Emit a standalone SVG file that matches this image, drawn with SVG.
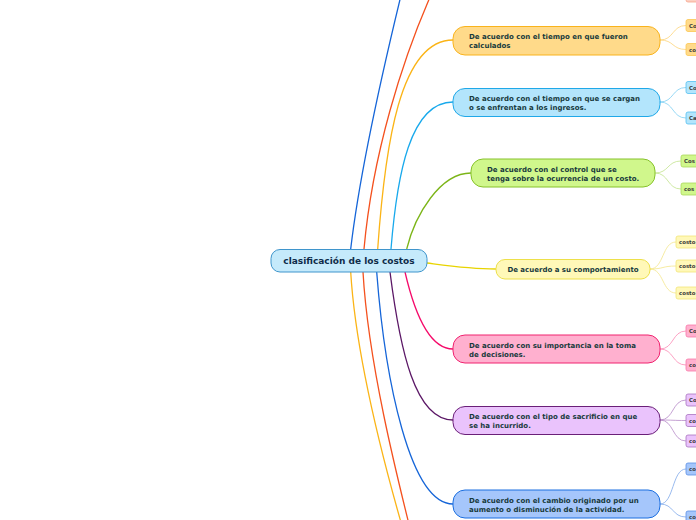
<svg xmlns="http://www.w3.org/2000/svg" width="696" height="520" viewBox="0 0 696 520">
<style>
.t{font-family:"DejaVu Sans","Liberation Sans",sans-serif;font-weight:bold;font-size:7px;fill:#183a3c}
.c{font-family:"DejaVu Sans","Liberation Sans",sans-serif;font-weight:bold;font-size:9px;fill:#0f2c4a}
.s{font-family:"DejaVu Sans","Liberation Sans",sans-serif;font-weight:bold;font-size:5.4px;fill:#3a3a3a}
.l{fill:none;stroke-width:1.3}
.k{fill:none;stroke-width:0.8}
</style>
<rect width="696" height="520" fill="#ffffff"/>
<g id="connectors">
<path class="l" stroke="#1565d8" d="M350.7 249 C360 170 385 60 406 -25"/>
<path class="l" stroke="#f4511e" d="M364 249 C372 160 400 60 440 -25"/>
<path class="l" stroke="#fbb416" d="M377.7 249 C385 145 400 40 453 40"/>
<path class="l" stroke="#18a9ec" d="M391 249 C397 175 410 102 453 102"/>
<path class="l" stroke="#7cb518" d="M406.7 249 C415 215 440 173 471 173"/>
<path class="l" stroke="#e8d400" d="M427 263 C450 266 470 269 496 269"/>
<path class="l" stroke="#f50a6a" d="M405 272 C415 315 430 349 453 349"/>
<path class="l" stroke="#5b1766" d="M390 272 C400 350 415 420 453 420"/>
<path class="l" stroke="#1565d8" d="M376.7 272 C385 380 410 504 453 504"/>
<path class="l" stroke="#f4511e" d="M363 272 C368 360 395 470 418 560"/>
<path class="l" stroke="#fbb416" d="M350.7 272 C356 360 385 470 412 560"/>
<path class="k" stroke="#fdd47a" d="M660 40 C674 40 672 25.5 686 25.5 M660 40 C674 40 672 49.5 686 49.5"/>
<path class="k" stroke="#7fcff2" d="M660 102 C674 102 672 87.5 686 87.5 M660 102 C674 102 672 118 686 118"/>
<path class="k" stroke="#c3e38e" d="M655 173 C669 173 667 161 681 161 M655 173 C669 173 667 189 681 189"/>
<path class="k" stroke="#f4e68a" d="M650 269 C664 269 662 242 676 242 M650 269 C664 269 662 266 676 266 M650 269 C664 269 662 293 676 293"/>
<path class="k" stroke="#fb8ab5" d="M660 349 C674 349 672 331 686 331 M660 349 C674 349 672 365 686 365"/>
<path class="k" stroke="#b68ac8" d="M660 420 C674 420 672 400 686 400 M660 420 C674 420 672 420.5 686 420.5 M660 420 C674 420 672 441 686 441"/>
<path class="k" stroke="#7fa8ea" d="M660 504 C674 504 672 469 686 469 M660 504 C674 504 672 517 686 517"/>
</g>
<g id="center">
<rect x="271" y="249.5" width="156" height="22.5" rx="9" fill="#c5eafb" stroke="#3f95cc" stroke-width="1"/>
<text class="c" x="349" y="264.2" text-anchor="middle">clasificación de los costos</text>
</g>
<g id="n1">
<rect x="453" y="26.5" width="207" height="28.5" rx="12" fill="#ffda8a" stroke="#f9b31c" stroke-width="1"/>
<text class="t" x="469" y="39">De acuerdo con el tiempo en que fueron</text>
<text class="t" x="469" y="48">calculados</text>
</g>
<g id="n2">
<rect x="453" y="88.5" width="207" height="28" rx="12" fill="#b3e5fc" stroke="#1fa8e8" stroke-width="1"/>
<text class="t" x="469" y="101">De acuerdo con el tiempo en que se cargan</text>
<text class="t" x="469" y="110">o se enfrentan a los ingresos.</text>
</g>
<g id="n3">
<rect x="471" y="159" width="184" height="28" rx="12" fill="#d0f78c" stroke="#86c22a" stroke-width="1"/>
<text class="t" x="487" y="171.5">De acuerdo con el control que se</text>
<text class="t" x="487" y="180.5">tenga sobre la ocurrencia de un costo.</text>
</g>
<g id="n4">
<rect x="496" y="259.5" width="154" height="19.5" rx="9" fill="#fff8b8" stroke="#ede04a" stroke-width="1"/>
<text class="t" x="573" y="271.5" text-anchor="middle">De acuerdo a su comportamiento</text>
</g>
<g id="n5">
<rect x="453" y="335" width="207" height="28" rx="12" fill="#ffb0cf" stroke="#f0226f" stroke-width="1"/>
<text class="t" x="469" y="347.5">De acuerdo con su importancia en la toma</text>
<text class="t" x="469" y="356.5">de decisiones.</text>
</g>
<g id="n6">
<rect x="453" y="406.5" width="207" height="28" rx="12" fill="#eac3fc" stroke="#6a1f78" stroke-width="1"/>
<text class="t" x="469" y="419">De acuerdo con el tipo de sacrificio en que</text>
<text class="t" x="469" y="428">se ha incurrido.</text>
</g>
<g id="n7">
<rect x="453" y="490" width="207" height="28" rx="12" fill="#a5c6fb" stroke="#1a6ee0" stroke-width="1"/>
<text class="t" x="469" y="502.5">De acuerdo con el cambio originado por un</text>
<text class="t" x="469" y="511.5">aumento o disminución de la actividad.</text>
</g>
<g id="c0"><rect x="686" y="-10" width="40" height="12" rx="2" fill="#fcd0c2" stroke="#f7a58c" stroke-width="0.8"/></g>
<g id="c1a"><rect x="686" y="19.5" width="40" height="12" rx="2" fill="#ffda8a" stroke="#fbc752" stroke-width="0.8"/><text class="s" x="689" y="27.5">Co</text></g>
<g id="c1b"><rect x="686" y="43.5" width="40" height="12" rx="2" fill="#ffda8a" stroke="#fbc752" stroke-width="0.8"/><text class="s" x="689" y="51.5">co</text></g>
<g id="c2a"><rect x="686" y="81.5" width="40" height="12" rx="2" fill="#b3e5fc" stroke="#56c0f0" stroke-width="0.8"/><text class="s" x="689" y="89.5">Co</text></g>
<g id="c2b"><rect x="686" y="112" width="40" height="12" rx="2" fill="#b3e5fc" stroke="#56c0f0" stroke-width="0.8"/><text class="s" x="689" y="120">Ca</text></g>
<g id="c3a"><rect x="681" y="155" width="40" height="12" rx="2" fill="#d0f78c" stroke="#a9d85a" stroke-width="0.8"/><text class="s" x="684" y="163">Cos</text></g>
<g id="c3b"><rect x="681" y="183" width="40" height="12" rx="2" fill="#d0f78c" stroke="#a9d85a" stroke-width="0.8"/><text class="s" x="684" y="191">cos</text></g>
<g id="c4a"><rect x="676" y="236" width="40" height="12" rx="2" fill="#fff8b8" stroke="#f2e47a" stroke-width="0.8"/><text class="s" x="679" y="244">costo</text></g>
<g id="c4b"><rect x="676" y="260" width="40" height="12" rx="2" fill="#fff8b8" stroke="#f2e47a" stroke-width="0.8"/><text class="s" x="679" y="268">costo</text></g>
<g id="c4c"><rect x="676" y="287" width="40" height="12" rx="2" fill="#fff8b8" stroke="#f2e47a" stroke-width="0.8"/><text class="s" x="679" y="295">costo</text></g>
<g id="c5a"><rect x="686" y="325" width="40" height="12" rx="2" fill="#ffb0cf" stroke="#f878a8" stroke-width="0.8"/><text class="s" x="689" y="333">Co</text></g>
<g id="c5b"><rect x="686" y="359" width="40" height="12" rx="2" fill="#ffb0cf" stroke="#f878a8" stroke-width="0.8"/><text class="s" x="689" y="367">co</text></g>
<g id="c6a"><rect x="686" y="394" width="40" height="12" rx="2" fill="#eac3fc" stroke="#a874bf" stroke-width="0.8"/><text class="s" x="689" y="402">Co</text></g>
<g id="c6b"><rect x="686" y="414.5" width="40" height="12" rx="2" fill="#eac3fc" stroke="#a874bf" stroke-width="0.8"/><text class="s" x="689" y="422.5">co</text></g>
<g id="c6c"><rect x="686" y="435" width="40" height="12" rx="2" fill="#eac3fc" stroke="#a874bf" stroke-width="0.8"/><text class="s" x="689" y="443">co</text></g>
<g id="c7a"><rect x="686" y="463" width="40" height="12" rx="2" fill="#a5c6fb" stroke="#5a8fe6" stroke-width="0.8"/><text class="s" x="689" y="471">co</text></g>
<g id="c7b"><rect x="686" y="511" width="40" height="12" rx="2" fill="#a5c6fb" stroke="#5a8fe6" stroke-width="0.8"/><text class="s" x="689" y="519">co</text></g>
</svg>
